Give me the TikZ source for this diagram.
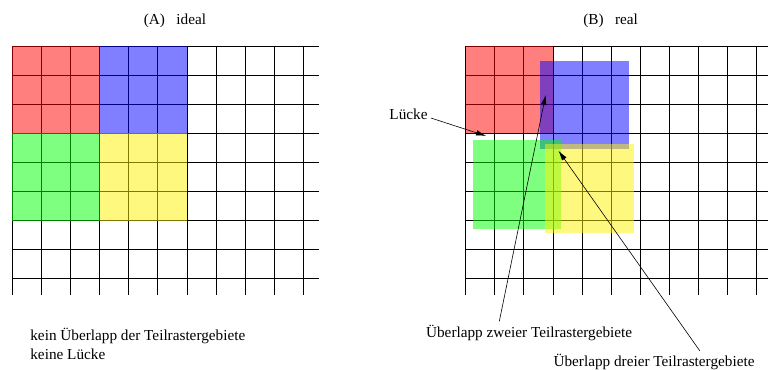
\documentclass[tikz,border=0pt]{standalone}
\usepackage{fontspec}
\setmainfont{Liberation Serif}
\usetikzlibrary{calc,arrows.meta}

\begin{document}
\begin{tikzpicture}[x=29.1bp, y=-29.1bp,
  gitter/.style={line width=0.8bp, black},
  feld/.style={fill opacity=0.5},
  pfeil/.style={line width=0.6bp, -{Latex[length=10bp,width=5.5bp]}},
  beschr/.style={font=\fontsize{15.3}{18.6}\selectfont},
]
\useasboundingbox (-0.423,-1.581) rectangle (25.97,11.10);

% (A) ideal
\node[beschr, anchor=base] (titelA) at (5.59,-0.756) {(A)~~~ideal};
\foreach \i in {0,...,10} \draw[gitter] (\i,0) -- (\i,8.56);
\foreach \j in {0,...,8} \draw[gitter] (0,\j) -- (10.54,\j);
\fill[feld, red]    (0,0) rectangle (3,3);
\fill[feld, blue]   (3,0) rectangle (6,3);
\fill[feld, green]  (0,3) rectangle (3,6);
\fill[feld, yellow] (3,3) rectangle (6,6);

\node[beschr, anchor=base west, align=left] (ideal) at (0.50,10.77)
  {kein Überlapp der Teilrastergebiete\\keine Lücke};

% (B) real
\begin{scope}[shift={(15.58,0)}]
\node[beschr, anchor=base] (titelB) at (4.98,-0.756) {(B)~~~real};
\foreach \i in {0,...,10} \draw[gitter] (\i,0) -- (\i,8.56);
\foreach \j in {0,...,8} \draw[gitter] (0,\j) -- (10.4,\j);
\fill[feld, red]    (0,0) rectangle (3,3);
\fill[feld, blue]   (2.56,0.52) rectangle (5.60,3.54);
\fill[feld, green]  (0.24,3.23) rectangle (3.27,6.28);
\fill[feld, yellow] (2.74,3.38) rectangle (5.77,6.42);

\coordinate (lueckeziel) at (0.70,3.09);
\coordinate (zweierziel) at (2.75,1.68);
\coordinate (dreierziel) at (3.19,3.60);
\end{scope}

\node[beschr, anchor=base east] (luecke) at (14.39,2.51) {Lücke};
\node[beschr, anchor=base west] (zweier) at (14.10,10.01) {Überlapp zweier Teilrastergebiete};
\node[beschr, anchor=base west] (dreier) at (18.48,11.02) {Überlapp dreier Teilrastergebiete};

\draw[pfeil] ([yshift=1bp]luecke.base east) -- (lueckeziel);
\draw[pfeil] ($(zweier.north west)!0.36!(zweier.north east)$) -- (zweierziel);
\draw[pfeil] ($(dreier.north west)!0.72!(dreier.north east)$) -- (dreierziel);

\end{tikzpicture}
\end{document}
